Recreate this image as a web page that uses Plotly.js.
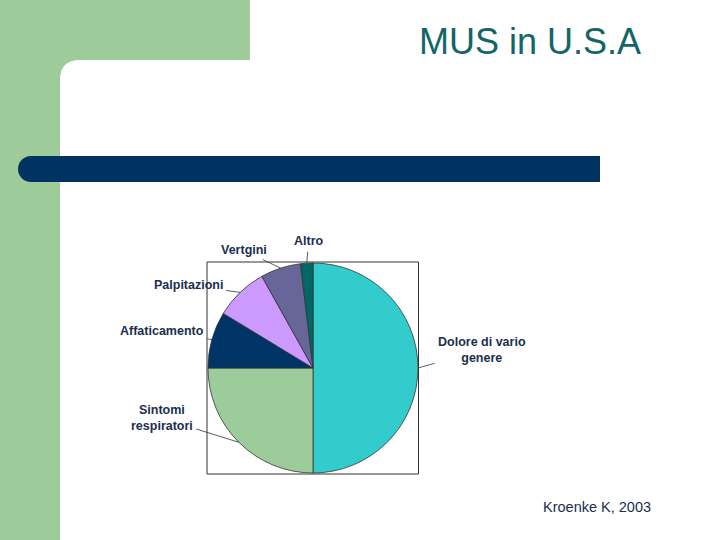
<!DOCTYPE html>
<html>
<head>
<meta charset="utf-8">
<script src="https://cdn.plot.ly/plotly-3.0.1.min.js"></script>
<style>html,body{margin:0;padding:0;background:#fff;}#chart{width:720px;height:540px;}</style>
</head>
<body>
<div id="chart"></div>
<script>
// Data
const categories = ["Dolore di vario genere", "Sintomi respiratori", "Affaticamento", "Palpitazioni", "Vertgini", "Altro"];
const labelTexts = ["Dolore di vario<br>genere", "Sintomi<br>respiratori", "Affaticamento", "Palpitazioni", "Vertgini", "Altro"];
const values = [50, 25, 8.7, 8.2, 6.2, 1.9];
const sliceColors = ["#33CCCC", "#9CCC9A", "#003366", "#CC99FF", "#666699", "#006666"];
const titleText = "MUS in U.S.A";
const sourceText = "Kroenke K, 2003";

// Layout geometry (pixels)
const W = 720, H = 540;
const pcx = 313, pcy = 368, pr = 105;
const px = v => v / W;
const py = v => 1 - v / H;

// label offsets (px) from slice edge midpoint to label center
const labelOffsets = [[64, -18], [-77, -24], [-50, -9], [-52, -7], [-37, -18], [2, -22]];

const total = values.reduce((a, b) => a + b, 0);
let cum = 0;
const annotations = [];
values.forEach((v, i) => {
  const mid = (cum + v / 2) / total * 2 * Math.PI; // clockwise from 12 o'clock
  cum += v;
  const ex = pcx + pr * Math.sin(mid);
  const ey = pcy - pr * Math.cos(mid);
  annotations.push({
    x: px(ex), y: py(ey), xref: 'paper', yref: 'paper',
    text: labelTexts[i], showarrow: true, arrowhead: 0, arrowwidth: 0.8,
    arrowcolor: '#333333', standoff: 0, startstandoff: 2,
    ax: labelOffsets[i][0], ay: labelOffsets[i][1], axref: 'pixel', ayref: 'pixel',
    align: 'center',
    font: {family: 'Liberation Sans, Arial, sans-serif', size: 12.5, color: '#1a2f4f', weight: 'bold'}
  });
});

annotations.push({
  x: px(530), y: py(42), xref: 'paper', yref: 'paper', showarrow: false,
  text: titleText, xanchor: 'center', yanchor: 'middle',
  font: {family: 'Liberation Sans, Arial, sans-serif', size: 36, color: '#136666', weight: 'normal'}
});
annotations.push({
  x: px(597), y: py(507), xref: 'paper', yref: 'paper', showarrow: false,
  text: sourceText, xanchor: 'center', yanchor: 'middle',
  font: {family: 'Liberation Sans, Arial, sans-serif', size: 14.5, color: '#1a2f4f'}
});

const green = '#9DCC9A', navy = '#003362';
const rc = 20;
const whitePath = `M ${px(60)},${py(H+5)} L ${px(60)},${py(60+rc)} Q ${px(60)},${py(60)} ${px(60+rc)},${py(60)} L ${px(W+5)},${py(60)} L ${px(W+5)},${py(H+5)} Z`;

const shapes = [
  {type: 'rect', xref: 'paper', yref: 'paper', x0: px(0), x1: px(250), y0: py(0), y1: py(100), fillcolor: green, line: {width: 0}, layer: 'below'},
  {type: 'rect', xref: 'paper', yref: 'paper', x0: px(0), x1: px(60), y0: py(0), y1: py(H+5), fillcolor: green, line: {width: 0}, layer: 'below'},
  {type: 'path', xref: 'paper', yref: 'paper', path: whitePath, fillcolor: '#ffffff', line: {width: 0}, layer: 'below'},
  {type: 'circle', xref: 'paper', yref: 'paper', x0: px(18), x1: px(44), y0: py(156), y1: py(182), fillcolor: navy, line: {width: 0}, layer: 'below'},
  {type: 'rect', xref: 'paper', yref: 'paper', x0: px(31), x1: px(600), y0: py(156), y1: py(182), fillcolor: navy, line: {width: 0}, layer: 'below'},
  {type: 'rect', xref: 'paper', yref: 'paper', x0: px(207), x1: px(418.5), y0: py(262), y1: py(474), fillcolor: 'rgba(0,0,0,0)', line: {width: 1, color: '#333333'}, layer: 'below'}
];

const trace = {
  type: 'pie', labels: categories, values: values, sort: false, direction: 'clockwise', rotation: 0,
  marker: {colors: sliceColors, line: {color: '#333333', width: 0.8}},
  textinfo: 'none', hoverinfo: 'label+value', showlegend: false,
  domain: {x: [px(pcx - pr), px(pcx + pr)], y: [py(pcy + pr), py(pcy - pr)]}
};

const layout = {
  width: W, height: H, margin: {l: 0, r: 0, t: 0, b: 0},
  paper_bgcolor: '#ffffff', plot_bgcolor: '#ffffff',
  showlegend: false, shapes: shapes, annotations: annotations
};

Plotly.newPlot('chart', [trace], layout, {displayModeBar: false, staticPlot: true});
</script>
</body>
</html>
